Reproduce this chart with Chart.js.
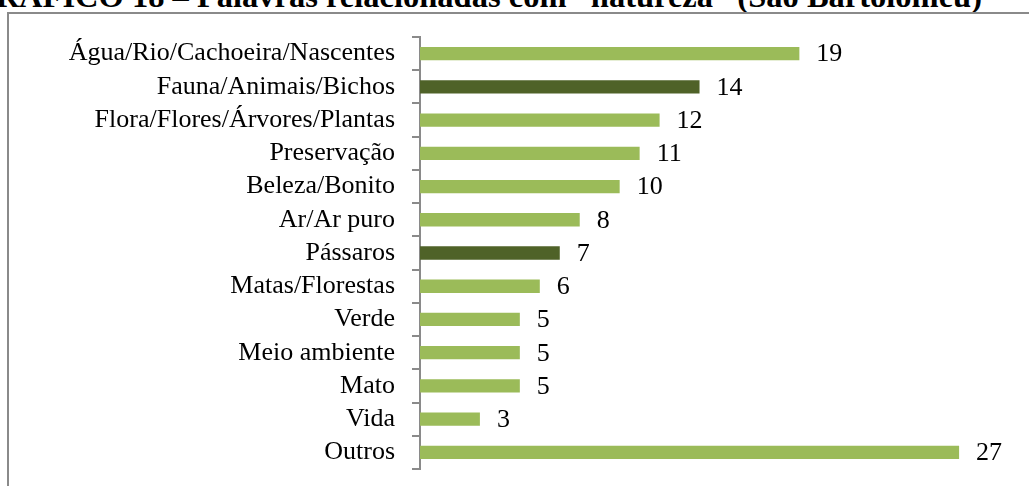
<!DOCTYPE html>
<html>
<head>
<meta charset="utf-8">
<script src="https://cdn.jsdelivr.net/npm/chart.js@4/dist/chart.umd.min.js"></script>
<style>
    html, body { margin: 0; padding: 0; background: #fff; overflow: hidden; }
    body { width: 1029px; height: 486px; position: relative; }
    #titulo {
        position: absolute; right: 47px; top: -20px;
        font: bold 32.5px "Liberation Serif", "Times New Roman", serif;
        line-height: 33px; white-space: nowrap; color: #000;
    }
    #moldura {
        position: absolute; left: 7px; top: 12px; width: 1200px; height: 700px;
        border: 2px solid #8a8a8a;
    }
    #grafico { position: absolute; left: 0; top: 0; }
</style>
</head>
<body>
<div id="titulo">GRÁFICO 18 – Palavras relacionadas com “natureza” (São Bartolomeu)</div>
<div id="moldura"></div>
<canvas id="grafico" width="1029" height="486"></canvas>
<script>
// --- Dados ---
const categorias = [
    'Água/Rio/Cachoeira/Nascentes',
    'Fauna/Animais/Bichos',
    'Flora/Flores/Árvores/Plantas',
    'Preservação',
    'Beleza/Bonito',
    'Ar/Ar puro',
    'Pássaros',
    'Matas/Florestas',
    'Verde',
    'Meio ambiente',
    'Mato',
    'Vida',
    'Outros'
];
const valores = [19, 14, 12, 11, 10, 8, 7, 6, 5, 5, 5, 3, 27];
const destacados = ['Fauna/Animais/Bichos', 'Pássaros'];

const corClara = '#9bbb59';
const corEscura = '#4f6228';
const fonte = '"Liberation Serif", "Times New Roman", serif';

// rótulos de valor à direita das barras
const rotulosValor = {
    id: 'rotulosValor',
    afterDatasetsDraw(chart) {
        const ctx = chart.ctx;
        const meta = chart.getDatasetMeta(0);
        ctx.save();
        ctx.font = '26px ' + fonte;
        ctx.fillStyle = '#000';
        ctx.textBaseline = 'middle';
        ctx.textAlign = 'left';
        meta.data.forEach((bar, i) => {
            ctx.fillText(String(valores[i]), bar.x + 17, bar.y + 1);
        });
        ctx.restore();
    }
};

const ctx = document.getElementById('grafico').getContext('2d');
new Chart(ctx, {
    type: 'bar',
    data: {
        labels: categorias,
        datasets: [{
            data: valores,
            backgroundColor: (c) => destacados.includes(categorias[c.dataIndex]) ? corEscura : corClara,
            barPercentage: 0.4,
            categoryPercentage: 1
        }]
    },
    options: {
        indexAxis: 'y',
        responsive: false,
        animation: false,
        layout: { padding: { left: 0, top: 37, bottom: 17, right: 10 } },
        plugins: { legend: { display: false }, tooltip: { enabled: false } },
        scales: {
            x: { display: false, min: 0, max: 30 },
            y: {
                afterFit: (scale) => {
                    scale.width = 420;
                    scale.paddingTop = 0;
                    scale.paddingBottom = 0;
                },
                grid: {
                    drawOnChartArea: false,
                    drawTicks: true,
                    tickLength: 8,
                    color: '#8a8a8a',
                    lineWidth: 2
                },
                border: { color: '#8a8a8a', width: 2 },
                ticks: {
                    color: '#000',
                    padding: 17,
                    autoSkip: false,
                    font: { family: fonte, size: 26 }
                }
            }
        }
    },
    plugins: [rotulosValor]
});
</script>
</body>
</html>
